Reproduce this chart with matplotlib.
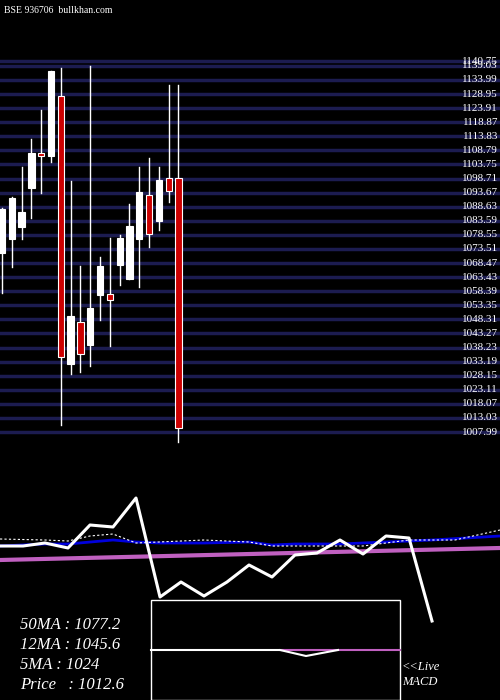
import matplotlib
matplotlib.use("Agg")
import matplotlib.pyplot as plt
from matplotlib.patches import Rectangle

opens  = [1072.1,1077.1,1081.4,1095.3,1107.9,1106.8,1128.3,1032.3,1047.4,1039.1,1057.0,1057.4,1067.8,1062.8,1077.1,1092.8,1083.5,1098.9,1098.9]
highs  = [1088.0,1092.0,1102.9,1112.9,1123.3,1137.2,1138.3,1097.8,1067.4,1139.0,1070.6,1077.4,1078.5,1089.6,1102.9,1106.1,1102.9,1132.2,1132.2]
lows   = [1057.8,1067.1,1077.1,1084.6,1093.6,1104.6,1010.5,1028.8,1029.5,1031.6,1048.1,1038.8,1060.6,1062.8,1059.9,1074.2,1080.3,1090.3,1004.4]
closes = [1087.8,1091.8,1086.8,1107.9,1106.8,1137.2,1034.8,1049.5,1035.9,1052.4,1067.4,1055.3,1077.4,1081.7,1093.9,1078.9,1098.2,1094.3,1009.4]
levels = [1007.99+5.04*k for k in range(26)] + [1139.03, 1140.75]
level_labels = ["%.2f" % v for v in levels]

# lower panel (pixel-unit heights)
osc_x = [0,23,45,68,90,113,136,160,181,204,227,249,272,295,317,340,363,386,409,432]
osc_y = [546,546,543,548,525,527,498,597,582,596,582,565,577,555,553,540,554,536,538,621]
blue_x = [0,45,68,113,136,160,204,249,272,295,340,386,432,500]
blue_y = [546,544,544,540,542,543,543,542,545,544,544,542,540,536]
dot_x = [0,45,68,90,113,136,204,249,272,317,363,409,455,500]
dot_y = [539,540,541,536,534,543,540,542,546,546,546,540,540,530]
mag_x = [0,500]
mag_y = [560,548]
macd_x = [151,280,306,338]
macd_y = [650,650,656,650]
sig_x = [280,400]
sig_y = [650,650]
info = ["50MA : 1077.2", "12MA : 1045.6", "5MA : 1024", "Price   : 1012.6"]

fig = plt.figure(figsize=(5,7), dpi=100, facecolor="black")
ax = fig.add_axes([0, 1-460/700, 1, 460/700])
ax.set_facecolor("black")
ax.set_xlim(-0.204, 50.8)
ax.set_ylim(997.97, 1162.6)
ax.axis("off")
for v, t in zip(levels, level_labels):
    ax.axhline(v, color="#1c1c50", lw=2.5, zorder=1)
    ax.text(50.6, v, t, color="white", ha="right", va="center", fontsize=8, family="Liberation Serif", zorder=5)
for i,(o,h,l,c) in enumerate(zip(opens,highs,lows,closes)):
    ax.plot([i,i],[l,h], color="white", lw=1, zorder=2)
    col = "white" if c >= o else "#cc0000"
    ax.add_patch(Rectangle((i-0.32, min(o,c)), 0.64, abs(c-o), facecolor=col, edgecolor="white", lw=0.8, zorder=3))
ax.text(0.2, 1159, "BSE 936706  bullkhan.com", color="white", fontsize=7, family="Liberation Serif", va="center")

bx = fig.add_axes([0,0,1,1])
bx.set_xlim(0,500); bx.set_ylim(700,0); bx.axis("off"); bx.patch.set_alpha(0)
bx.plot(mag_x, mag_y, color="#c060c0", lw=3)
bx.plot(blue_x, blue_y, color="#0000dd", lw=2)
bx.plot(dot_x, dot_y, color="white", lw=0.8, ls=(0,(2,2)))
bx.plot(osc_x, osc_y, color="white", lw=2.2)
bx.add_patch(Rectangle((151,600),249,100, fill=False, edgecolor="white", lw=1))
bx.plot(sig_x, sig_y, color="#c060c0", lw=1.5)
bx.plot(macd_x, macd_y, color="white", lw=1.5)
for k,t in enumerate(info):
    bx.text(20, 625+20*k, t, color="white", fontsize=12, style="italic", family="Liberation Serif", va="center")
bx.text(402, 667, "<<Live", color="white", fontsize=9, style="italic", family="Liberation Serif", va="center")
bx.text(402, 682, "MACD", color="white", fontsize=9, style="italic", family="Liberation Serif", va="center")
fig.savefig("out.png", dpi=100, facecolor="black")
